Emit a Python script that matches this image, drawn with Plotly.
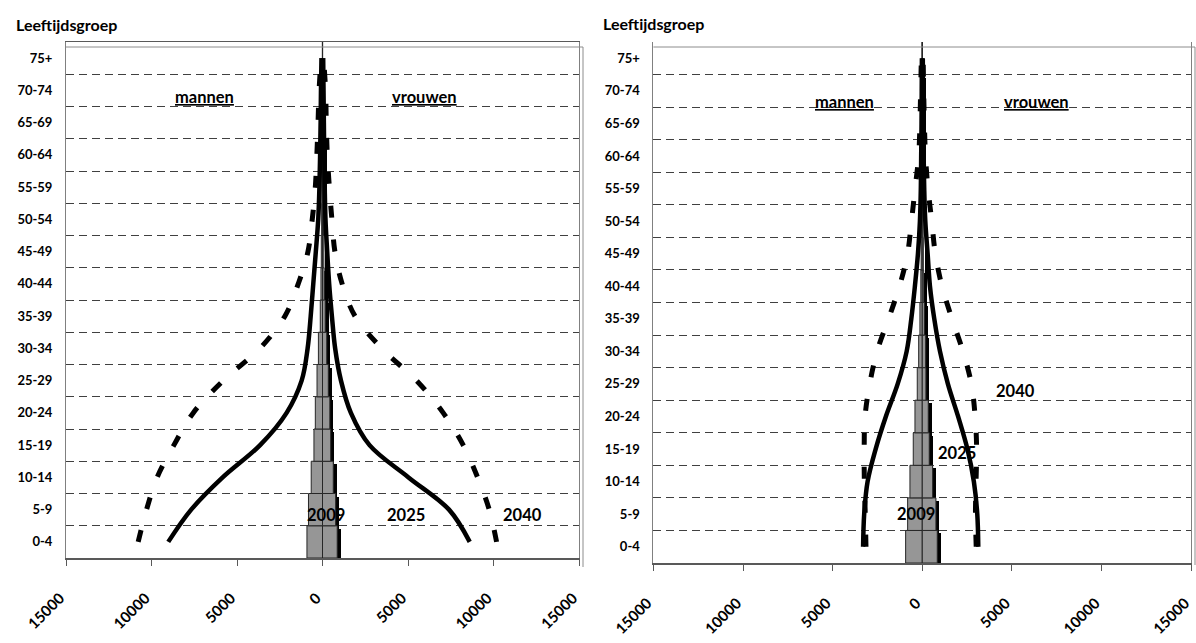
import plotly.graph_objects as go

W, H = 1196, 643

age_groups = ["0-4", "5-9", "10-14", "15-19", "20-24", "25-29", "30-34", "35-39",
              "40-44", "45-49", "50-54", "55-59", "60-64", "65-69", "70-74", "75+"]

x_tickvals = [-15000, -10000, -5000, 0, 5000, 10000, 15000]
x_ticktext = ["15000", "10000", "5000", "0", "5000", "10000", "15000"]

# ---- left chart ----
left_2009_men = [910, 820, 660, 500, 420, 320, 240, 130, 90, 70, 50, 40, 30, 20, 15, 10]
left_2009_women = [860, 770, 630, 480, 430, 340, 250, 160, 100, 80, 60, 40, 30, 20, 15, 10]
left_2025_men = [9020, 7680, 5840, 3650, 2100, 1220, 870, 690, 540, 390, 250, 180, 140, 110, 90, 60]
left_2025_women = [8610, 7400, 5030, 2750, 1660, 1080, 740, 550, 390, 275, 175, 130, 100, 80, 60, 40]
left_2040_men = [10780, 10290, 9670, 8690, 7560, 5810, 3660, 2200, 1420, 850, 600, 420, 330, 260, 200, 80]
left_2040_women = [10180, 9750, 9070, 8230, 7060, 5500, 3460, 1900, 1150, 725, 550, 400, 280, 220, 180, 60]

# ---- right chart ----
right_2009_men = [927, 815, 686, 502, 407, 279, 200, 130, 80, 60, 50, 40, 30, 20, 15, 10]
right_2009_women = [837, 764, 580, 390, 335, 205, 190, 120, 80, 60, 50, 40, 30, 20, 15, 10]
right_2025_men = [3300, 3240, 3050, 2600, 2030, 1370, 870, 610, 410, 240, 130, 80, 60, 40, 30, 20]
right_2025_women = [3126, 3070, 2880, 2520, 2000, 1430, 990, 670, 430, 300, 170, 110, 80, 60, 40, 30]
right_2040_men = [3140, 3180, 3230, 3240, 3190, 2930, 2520, 1880, 1270, 820, 600, 400, 200, 130, 90, 50]
right_2040_women = [3010, 2970, 3000, 3035, 2950, 2740, 2270, 1660, 1100, 730, 530, 320, 180, 120, 80, 50]

# pixel geometry of the two plot areas
LEFT_X = (66, 579)
RIGHT_X = (653.4, 1191.1)
LEFT_Y = (42, 558)     # top, bottom
RIGHT_Y = (42, 563)


def px(x):
    return x / W


def py(y):
    return 1 - y / H


FONT = "Lato"
BAR_FILL = "#969696"
BAR_EDGE = "#262626"

fig = go.Figure()


def add_panel(xa, ya, men09, women09, men25, women25, men40, women40, unit_per_px, row_px):
    xref = "x" if xa == 1 else "x%d" % xa
    yref = "y" if ya == 1 else "y%d" % ya
    sh_x = 3.5 * unit_per_px          # shadow offset (right)
    sh_y = 3.0 / row_px               # shadow offset (down), in category units
    neg = lambda arr: [-v for v in arr]
    # shadows
    for vals in (neg(men09), women09):
        fig.add_trace(go.Bar(
            x=vals, y=age_groups, orientation="h", base=sh_x, width=1,
            offset=-0.5 - sh_y, marker=dict(color="black", line=dict(width=0)),
            xaxis=xref, yaxis=yref, showlegend=False, hoverinfo="skip"))
    # 2009 bars
    for vals in (neg(men09), women09):
        fig.add_trace(go.Bar(
            x=vals, y=age_groups, orientation="h", width=1,
            marker=dict(color=BAR_FILL, line=dict(color=BAR_EDGE, width=1)),
            xaxis=xref, yaxis=yref, showlegend=False, name="2009"))
    # 2025 solid lines
    for vals in (neg(men25), women25):
        fig.add_trace(go.Scatter(
            x=vals, y=age_groups, mode="lines",
            line=dict(color="black", width=4.5, shape="spline", smoothing=1),
            xaxis=xref, yaxis=yref, showlegend=False, name="2025"))
    # 2040 dashed lines
    for vals in (neg(men40), women40):
        fig.add_trace(go.Scatter(
            x=vals, y=age_groups, mode="lines",
            line=dict(color="black", width=5, shape="spline", smoothing=1, dash="12px,22px"),
            xaxis=xref, yaxis=yref, showlegend=False, name="2040"))


left_upp = 30000 / (LEFT_X[1] - LEFT_X[0])
right_upp = 30000 / (RIGHT_X[1] - RIGHT_X[0])
add_panel(1, 1, left_2009_men, left_2009_women, left_2025_men, left_2025_women,
          left_2040_men, left_2040_women, left_upp, (LEFT_Y[1] - LEFT_Y[0]) / 16)
add_panel(2, 2, right_2009_men, right_2009_women, right_2025_men, right_2025_women,
          right_2040_men, right_2040_women, right_upp, (RIGHT_Y[1] - RIGHT_Y[0]) / 16)


def xaxis_cfg(dom, mirror):
    return dict(
        domain=[px(dom[0]), px(dom[1])], range=[-15000, 15000],
        tickvals=x_tickvals, ticktext=x_ticktext, tickangle=-45,
        tickfont=dict(family=FONT, size=15, color="black", weight="bold"),
        ticks="outside", ticklen=6, tickcolor="#595959", tickwidth=1,
        ticklabelstandoff=18, ticklabelshift=-6,
        showline=True, linecolor="#595959", linewidth=1.5, mirror=mirror,
        showgrid=False, zeroline=True, zerolinecolor="black", zerolinewidth=1,
        automargin=False, fixedrange=True)


def yaxis_cfg(dom, anchor):
    return dict(
        domain=[py(dom[1]), py(dom[0])], type="category", categoryarray=age_groups,
        categoryorder="array", range=[-0.5, 15.5], tickson="boundaries",
        showgrid=True, gridcolor="#404040", gridwidth=1, griddash="8px,5px",
        ticks="", ticklabelstandoff=10,
        tickfont=dict(family=FONT, size=13, color="black", weight="bold"),
        showline=True, linecolor="#808080", linewidth=1, mirror=True,
        zeroline=False, anchor=anchor, automargin=False, fixedrange=True)


fig.update_layout(
    width=W, height=H, margin=dict(l=0, r=0, t=0, b=0),
    paper_bgcolor="white", plot_bgcolor="white",
    barmode="overlay", bargap=0, showlegend=False,
    xaxis=dict(xaxis_cfg(LEFT_X, True), anchor="y"),
    yaxis=yaxis_cfg(LEFT_Y, "x"),
    xaxis2=dict(xaxis_cfg(RIGHT_X, False), anchor="y2"),
    yaxis2=yaxis_cfg(RIGHT_Y, "x2"),
)

# chart-area frame lines
frame_col = "#8c8c8c"
shapes = [
    dict(type="line", xref="paper", yref="paper", x0=px(66), x1=px(583), y0=py(47), y1=py(47),
         line=dict(color=frame_col, width=1)),
    dict(type="line", xref="paper", yref="paper", x0=px(583), x1=px(583), y0=py(47), y1=py(567),
         line=dict(color=frame_col, width=1)),
    dict(type="line", xref="paper", yref="paper", x0=px(653.4), x1=px(1195), y0=py(47), y1=py(47),
         line=dict(color=frame_col, width=1)),
    dict(type="line", xref="paper", yref="paper", x0=px(1195), x1=px(1195), y0=py(47), y1=py(565),
         line=dict(color=frame_col, width=1)),
]
fig.update_layout(shapes=shapes)

ann_font = dict(family=FONT, size=16.5, color="black", weight="bold")
title_font = dict(family=FONT, size=16, color="black", weight="bold")


def ann(text, x, y, font):
    return dict(text=text, x=px(x), y=py(y), xref="paper", yref="paper",
                xanchor="center", yanchor="middle", showarrow=False, font=font)


annotations = [
    ann("Leeftijdsgroep", 66, 24, title_font),
    ann("Leeftijdsgroep", 653, 23, title_font),
    ann("<u>mannen</u>", 204, 97, ann_font),
    ann("<u>vrouwen</u>", 424, 97, ann_font),
    ann("<u>mannen</u>", 844, 102, ann_font),
    ann("<u>vrouwen</u>", 1036, 102, ann_font),
    ann("2009", 326, 515, ann_font),
    ann("2025", 406, 515, ann_font),
    ann("2040", 522, 515, ann_font),
    ann("2009", 916, 514, ann_font),
    ann("2025", 957, 453, ann_font),
    ann("2040", 1015, 391, ann_font),
]
fig.update_layout(annotations=annotations)

fig.write_html(
    "out.html",
    config={"displayModeBar": False, "staticPlot": True},
    post_script="document.body.style.margin='0';document.body.style.overflow='hidden';")
